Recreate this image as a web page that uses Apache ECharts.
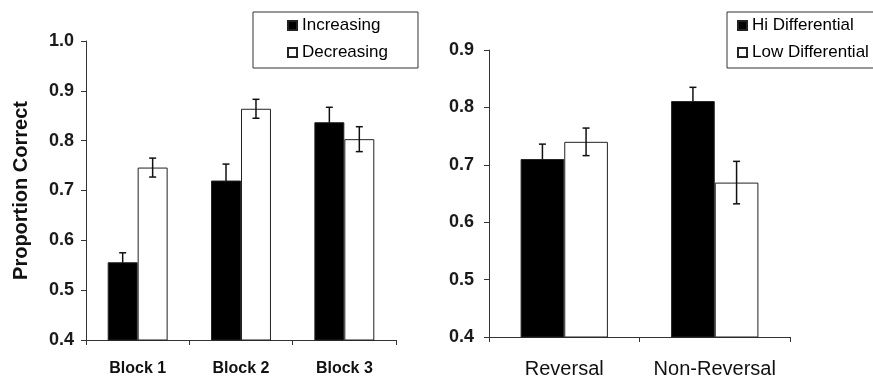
<!DOCTYPE html>
<html>
<head>
<meta charset="utf-8">
<script src="https://cdn.jsdelivr.net/npm/echarts@6/dist/echarts.min.js"></script>
<style>
html,body{margin:0;padding:0;background:#fff;}
#chart{width:873px;height:380px;}
</style>
</head>
<body>
<div id="chart"></div>
<script>
// Left panel
var blocks = ['Block 1', 'Block 2', 'Block 3'];
var increasing = [0.556, 0.720, 0.837];
var increasingErr = [0.019, 0.033, 0.030];
var decreasing = [0.746, 0.864, 0.803];
var decreasingErr = [0.019, 0.019, 0.025];
var leftTicks = [0.4, 0.5, 0.6, 0.7, 0.8, 0.9, 1.0];

// Right panel
var conditions = ['Reversal', 'Non-Reversal'];
var hiDiff = [0.710, 0.811];
var hiDiffErr = [0.026, 0.024];
var lowDiff = [0.740, 0.669];
var lowDiffErr = [0.024, 0.037];
var rightTicks = [0.4, 0.5, 0.6, 0.7, 0.8, 0.9];

var FONT = '"Liberation Sans", Arial, sans-serif';
var CAT_GAP = 0.42;

function errSeries(name, values, errs, xi, seriesPos, z) {
  var data = values.map(function (v, i) { return [i, v, errs[i]]; });
  return {
    type: 'custom',
    name: name + ' err',
    xAxisIndex: xi,
    yAxisIndex: xi,
    z: z,
    silent: true,
    data: data,
    renderItem: function (params, api) {
      var idx = api.value(0);
      var v = api.value(1);
      var e = api.value(2);
      var band = api.size([1, 0])[0];
      var barW = band * (1 - CAT_GAP) / 2;
      var center = api.coord([idx, v]);
      var x = center[0] + (seriesPos === 0 ? -barW / 2 : barW / 2);
      var yTop = api.coord([idx, v + e])[1];
      var yBot = api.coord([idx, v - e])[1];
      var cap = 3.5;
      var style = { stroke: '#111', lineWidth: 1.5 };
      return {
        type: 'group',
        children: [
          { type: 'line', shape: { x1: x, y1: yTop, x2: x, y2: yBot }, style: style },
          { type: 'line', shape: { x1: x - cap, y1: yTop, x2: x + cap, y2: yTop }, style: style },
          { type: 'line', shape: { x1: x - cap, y1: yBot, x2: x + cap, y2: yBot }, style: style }
        ]
      };
    }
  };
}

function barSeries(name, values, xi, fill) {
  return {
    type: 'bar',
    name: name,
    xAxisIndex: xi,
    yAxisIndex: xi,
    z: 5,
    data: values,
    barGap: '0%',
    barCategoryGap: (CAT_GAP * 100) + '%',
    itemStyle: { color: fill, borderColor: '#222', borderWidth: 1 },
    emphasis: { disabled: true }
  };
}

function yAxis(gi, min, max, ticks, margin, name) {
  var ax = {
    type: 'value',
    gridIndex: gi,
    min: min,
    max: max,
    interval: 0.1,
    splitLine: { show: false },
    axisLine: { show: true, lineStyle: { color: '#333', width: 1 } },
    axisTick: { show: true, inside: false, length: 5, lineStyle: { color: '#333' } },
    axisLabel: {
      margin: margin,
      fontFamily: FONT,
      fontSize: 18,
      fontWeight: 'bold',
      color: '#1a1a1a',
      formatter: function (v) {
        var m = ticks.filter(function (t) { return Math.abs(t - v) < 1e-6; });
        return m.length ? m[0].toFixed(1) : '';
      }
    }
  };
  if (name) {
    ax.name = name;
    ax.nameLocation = 'middle';
    ax.nameGap = 55;
    ax.nameTextStyle = { fontFamily: FONT, fontSize: 20, fontWeight: 'bold', color: '#111' };
  }
  return ax;
}

function xAxis(gi, cats, labelStyle, margin) {
  return {
    type: 'category',
    gridIndex: gi,
    data: cats,
    boundaryGap: true,
    axisLine: { show: true, onZero: false, lineStyle: { color: '#333', width: 1 } },
    axisTick: { show: true, alignWithLabel: false, length: 5, lineStyle: { color: '#333' } },
    axisLabel: Object.assign({ margin: margin, fontFamily: FONT, color: '#111', interval: 0 }, labelStyle)
  };
}

var chart = echarts.init(document.getElementById('chart'), null, { renderer: 'canvas' });
chart.setOption({
  animation: false,
  backgroundColor: '#fff',
  grid: [
    { left: 86, right: 477, top: 41, bottom: 40 },
    { left: 489, right: 83, top: 50, bottom: 43 }
  ],
  xAxis: [
    xAxis(0, blocks, { fontSize: 16, fontWeight: 'bold' }, 21),
    xAxis(1, conditions, { fontSize: 20, fontWeight: 'normal' }, 22)
  ],
  yAxis: [
    yAxis(0, 0.4, 1.0, leftTicks, 12, 'Proportion Correct'),
    yAxis(1, 0.4, 0.9, rightTicks, 15, null)
  ],
  legend: [
    {
      data: ['Increasing', 'Decreasing'],
      orient: 'vertical',
      left: 253, top: 12,
      padding: [5, 30, 7, 34],
      borderColor: '#333', borderWidth: 1,
      itemWidth: 9, itemHeight: 9, itemGap: 10,
      icon: 'rect',
      selectedMode: false,
      textStyle: { fontFamily: FONT, fontSize: 17, color: '#000' }
    },
    {
      data: ['Hi Differential', 'Low Differential'],
      orient: 'vertical',
      left: 727, top: 12,
      padding: [5, 20, 7, 10],
      borderColor: '#333', borderWidth: 1,
      itemWidth: 9, itemHeight: 9, itemGap: 10,
      icon: 'rect',
      selectedMode: false,
      textStyle: { fontFamily: FONT, fontSize: 17, color: '#000' }
    }
  ],
  series: [
    barSeries('Increasing', increasing, 0, '#000'),
    barSeries('Decreasing', decreasing, 0, '#fff'),
    barSeries('Hi Differential', hiDiff, 1, '#000'),
    barSeries('Low Differential', lowDiff, 1, '#fff'),
    errSeries('Increasing', increasing, increasingErr, 0, 0, 1),
    errSeries('Decreasing', decreasing, decreasingErr, 0, 1, 10),
    errSeries('Hi Differential', hiDiff, hiDiffErr, 1, 0, 1),
    errSeries('Low Differential', lowDiff, lowDiffErr, 1, 1, 10)
  ]
});
</script>
</body>
</html>
